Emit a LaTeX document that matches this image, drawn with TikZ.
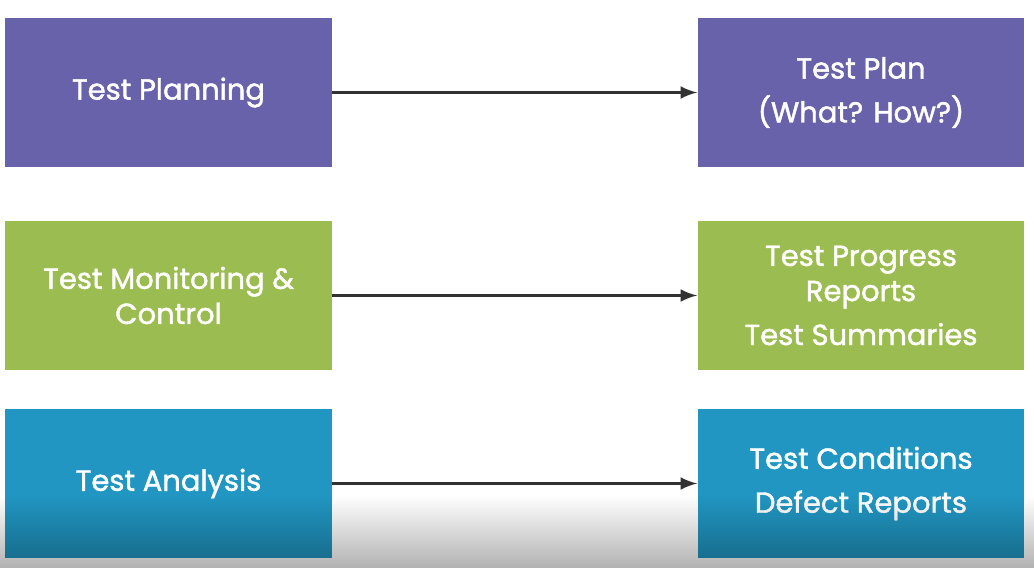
\documentclass[tikz,border=0pt]{standalone}
\usepackage{fontspec}
\setmainfont{Poppins}[FakeBold=1.5]
\usetikzlibrary{fadings}
\definecolor{planpurple}{RGB}{104,98,170}
\definecolor{monigreen}{RGB}{155,188,80}
\definecolor{analblue}{RGB}{33,150,194}
\definecolor{arrowgray}{RGB}{50,50,50}
\tikzset{
	stagebox/.style={minimum width=6.54cm, minimum height=3cm, inner sep=0pt, text=white, align=center, font=\fontsize{16.5}{20}\selectfont},
	flowarrow/.style={->, >=latex, line width=2.2pt, draw=arrowgray}
}
\begin{document}
\begin{tikzpicture}[x=0.02cm, y=-0.02cm]
		\useasboundingbox (0,0) rectangle (1034,568);
		\fill[white] (0,0) rectangle (1034,568);
		
		%left column
		\node[stagebox, fill=planpurple] (planning) at (168.5, 92.5){Test Planning};
		\node[stagebox, fill=monigreen] (monitoring) at (168.5, 295.5){Test Monitoring \&\\Control};
		\node[stagebox, fill=analblue] (analysis) at (168.5, 483.5){Test Analysis};
		
		%right column
		\node[stagebox, fill=planpurple] (plan) at (861, 92.5){Test Plan\\[5pt](What? How?)};
		\node[stagebox, fill=monigreen] (progress) at (861, 295.5){Test Progress\\Reports\\[5pt]Test Summaries};
		\node[stagebox, fill=analblue] (conditions) at (861, 483.5){Test Conditions\\[5pt]Defect Reports};
		
		\draw[flowarrow] (planning) -- (plan);
		\draw[flowarrow] (monitoring) -- (progress);
		\draw[flowarrow] (analysis) -- (conditions);
		
		%shadow at the bottom
		\fill[black, opacity=0.3, path fading=north] (0,495) rectangle (1034,568);
\end{tikzpicture}
\end{document}
